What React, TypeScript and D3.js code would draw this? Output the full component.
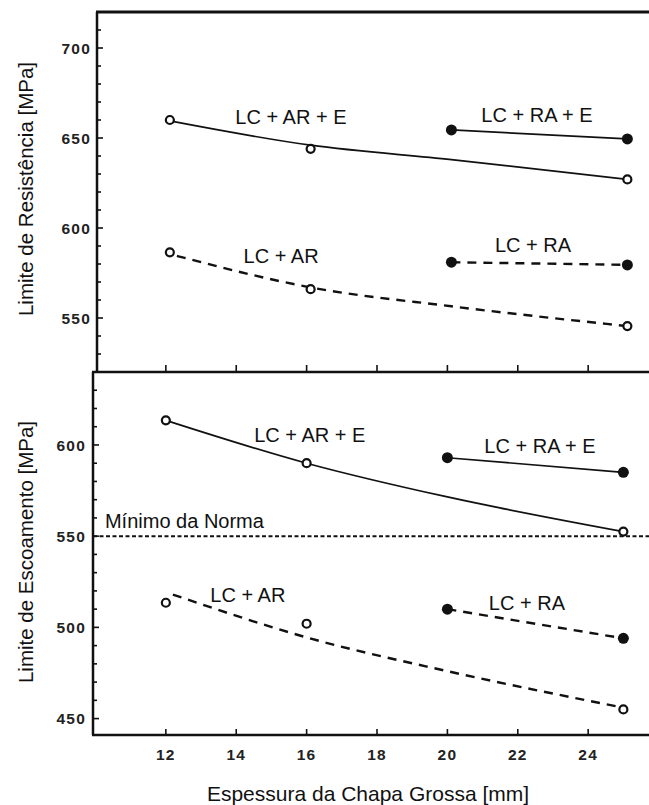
import React from "react";
import * as d3 from "d3";

// ---- Data ----
const xTicks = [12, 14, 16, 18, 20, 22, 24];
const topTicks = [550, 600, 650, 700];
const bottomTicks = [450, 500, 550, 600];
const topMinor = d3.range(530, 720, 10);
const bottomMinor = d3.range(450, 640, 10);
const normaMin = 550;

const thicknessAR = [12, 16, 25];
const thicknessRA = [20, 25];

// Limite de Resistência (top)
const resARE = [660, 644, 627];
const resAR = [586.5, 566, 545.5];
const resRAE = [654.5, 649.5];
const resRA = [581, 579.5];
// Limite de Escoamento (bottom)
const escARE = [613.5, 590, 552.5];
const escAR = [513.5, 502, 455];
const escRAE = [593, 585];
const escRA = [510, 494];

// fitted trend curves drawn in the figure
const resAREfitX = [12, 16, 20, 25];
const resAREfitY = [659.5, 646, 638, 627];
const resARfitX = [12.2, 16, 20, 25];
const resARfitY = [584.5, 567, 556.5, 545.5];
const escAREfitX = [12, 16, 20, 25];
const escAREfitY = [613.5, 590, 571.5, 552.5];
const escARfitX = [12.2, 16, 20, 25];
const escARfitY = [518, 494.5, 476, 456];

const topLabels = [
  { text: "LC + AR + E", x: 15.44, y: 657.8 },
  { text: "LC + RA + E", x: 22.43, y: 658.9 },
  { text: "LC + AR", x: 15.16, y: 580.6 },
  { text: "LC + RA", x: 22.32, y: 586.7 },
];
const bottomLabels = [
  { text: "LC + AR + E", x: 16.09, y: 601.6 },
  { text: "LC + RA + E", x: 22.63, y: 595.6 },
  { text: "LC + AR", x: 14.33, y: 513.9 },
  { text: "LC + RA", x: 22.26, y: 509.5 },
];

const W = 649;
const H = 805;
const font = "Arial, 'Liberation Sans', Helvetica, sans-serif";

export default function App() {
  const x = d3.scaleLinear().domain([9.93, 25.7]).range([93, 648]);
  const yTop = d3.scaleLinear().domain([520, 720]).range([372, 12]);
  const yBot = d3.scaleLinear().domain([441, 640]).range([735, 372]);
  const topOff = 4;

  const fitLine = (ys: d3.ScaleLinear<number, number>) =>
    d3
      .line<[number, number]>()
      .x((d) => x(d[0]))
      .y((d) => ys(d[1]))
      .curve(d3.curveMonotoneX);
  const straight = (ys: d3.ScaleLinear<number, number>) =>
    d3
      .line<[number, number]>()
      .x((d) => x(d[0]))
      .y((d) => ys(d[1]));

  const zip = (a: number[], b: number[]) => a.map((v, i) => [v, b[i]] as [number, number]);

  const dash = "9,7";
  const lw = 1.7;
  const dlw = 2.4;

  const openPts = (xs: number[], vs: number[], ys: any) =>
    xs.map((v, i) => (
      <circle key={"o" + i + v} cx={x(v)} cy={ys(vs[i])} r={4} fill="#fff" stroke="#111" strokeWidth={2.2} />
    ));
  const filledPts = (xs: number[], vs: number[], ys: any) =>
    xs.map((v, i) => <circle key={"f" + i + v} cx={x(v)} cy={ys(vs[i])} r={5.5} fill="#111" />);

  const axisX0 = x(9.93);
  const tickFont = { fontSize: 15.5, fontWeight: "bold" as const, letterSpacing: 1.2, fill: "#222" };

  return (
    <svg width={W} height={H} style={{ position: "absolute", left: 0, top: 0, background: "#fff" }} fontFamily={font}>
      <rect x={0} y={0} width={W} height={H} fill="#fff" />

      {/* ---------- Top panel ---------- */}
      <g transform={`translate(${topOff},0)`}>
        <line x1={axisX0} x2={axisX0} y1={yTop(720)} y2={yTop(520)} stroke="#111" strokeWidth={2.5} />
        {topMinor.map((t) => (
          <line key={t} x1={axisX0} x2={axisX0 + (t % 50 === 0 ? 6 : 4)} y1={yTop(t)} y2={yTop(t)} stroke="#111" strokeWidth={1.6} />
        ))}
        {topTicks.map((t) => (
          <text key={t} x={axisX0 - 6} y={yTop(t)} dy="0.36em" textAnchor="end" {...tickFont}>
            {t}
          </text>
        ))}
        <path d={fitLine(yTop)(zip(resAREfitX, resAREfitY)) || ""} fill="none" stroke="#111" strokeWidth={lw} />
        <path d={fitLine(yTop)(zip(resARfitX, resARfitY)) || ""} fill="none" stroke="#111" strokeWidth={dlw} strokeDasharray={dash} />
        <path d={straight(yTop)(zip(thicknessRA, resRAE)) || ""} fill="none" stroke="#111" strokeWidth={lw} />
        <path d={straight(yTop)(zip(thicknessRA, resRA)) || ""} fill="none" stroke="#111" strokeWidth={dlw} strokeDasharray={dash} />
        {openPts(thicknessAR, resARE, yTop)}
        {openPts(thicknessAR, resAR, yTop)}
        {filledPts(thicknessRA, resRAE, yTop)}
        {filledPts(thicknessRA, resRA, yTop)}
        {topLabels.map((l) => (
          <text key={l.text} x={x(l.x)} y={yTop(l.y)} textAnchor="middle" fontSize={20} fill="#111">
            {l.text}
          </text>
        ))}
      </g>
      <line x1={axisX0 + topOff - 1} x2={W} y1={yTop(720)} y2={yTop(720)} stroke="#111" strokeWidth={3} />

      {/* separator with ticks into top panel */}
      <line x1={axisX0 - 1} x2={W} y1={372} y2={372} stroke="#111" strokeWidth={2.5} />
      {xTicks.map((t) => (
        <line key={"s" + t} x1={x(t)} x2={x(t)} y1={372} y2={365} stroke="#111" strokeWidth={1.6} />
      ))}

      {/* ---------- Bottom panel ---------- */}
      <line x1={axisX0} x2={axisX0} y1={yBot(640)} y2={yBot(441)} stroke="#111" strokeWidth={2.5} />
      <line x1={axisX0 - 1} x2={W} y1={yBot(441)} y2={yBot(441)} stroke="#111" strokeWidth={2.5} />
      {bottomMinor.map((t) => (
        <line key={t} x1={axisX0} x2={axisX0 + (t % 50 === 0 ? 6 : 4)} y1={yBot(t)} y2={yBot(t)} stroke="#111" strokeWidth={1.6} />
      ))}
      {bottomTicks.map((t) => (
        <text key={t} x={axisX0 - 7} y={yBot(t)} dy="0.36em" textAnchor="end" {...tickFont}>
          {t}
        </text>
      ))}
      {xTicks.map((t) => (
        <g key={"b" + t}>
          <line x1={x(t)} x2={x(t)} y1={yBot(441)} y2={yBot(441) - 6} stroke="#111" strokeWidth={1.6} />
          <text x={x(t)} y={760} textAnchor="middle" {...tickFont}>
            {t}
          </text>
        </g>
      ))}

      <line x1={axisX0} x2={W} y1={yBot(normaMin)} y2={yBot(normaMin)} stroke="#111" strokeWidth={2} strokeDasharray="4,2.5" />
      <text x={x(10.27)} y={yBot(554.5)} fontSize={20} fill="#111">
        Mínimo da Norma
      </text>

      <path d={fitLine(yBot)(zip(escAREfitX, escAREfitY)) || ""} fill="none" stroke="#111" strokeWidth={lw} />
      <path d={fitLine(yBot)(zip(escARfitX, escARfitY)) || ""} fill="none" stroke="#111" strokeWidth={dlw} strokeDasharray={dash} />
      <path d={straight(yBot)(zip(thicknessRA, escRAE)) || ""} fill="none" stroke="#111" strokeWidth={lw} />
      <path d={straight(yBot)(zip(thicknessRA, escRA)) || ""} fill="none" stroke="#111" strokeWidth={dlw} strokeDasharray={dash} />
      {openPts(thicknessAR, escARE, yBot)}
      {openPts(thicknessAR, escAR, yBot)}
      {filledPts(thicknessRA, escRAE, yBot)}
      {filledPts(thicknessRA, escRA, yBot)}
      {bottomLabels.map((l) => (
        <text key={l.text} x={x(l.x)} y={yBot(l.y)} textAnchor="middle" fontSize={20} fill="#111">
          {l.text}
        </text>
      ))}

      {/* axis titles */}
      <text transform="translate(33,189) rotate(-90)" textAnchor="middle" fontSize={20.5} fill="#111">
        Limite de Resistência [MPa]
      </text>
      <text transform="translate(33,552) rotate(-90)" textAnchor="middle" fontSize={20.5} fill="#111">
        Limite de Escoamento [MPa]
      </text>
      <text x={368} y={801} textAnchor="middle" fontSize={21} fill="#111">
        Espessura da Chapa Grossa [mm]
      </text>
    </svg>
  );
}
